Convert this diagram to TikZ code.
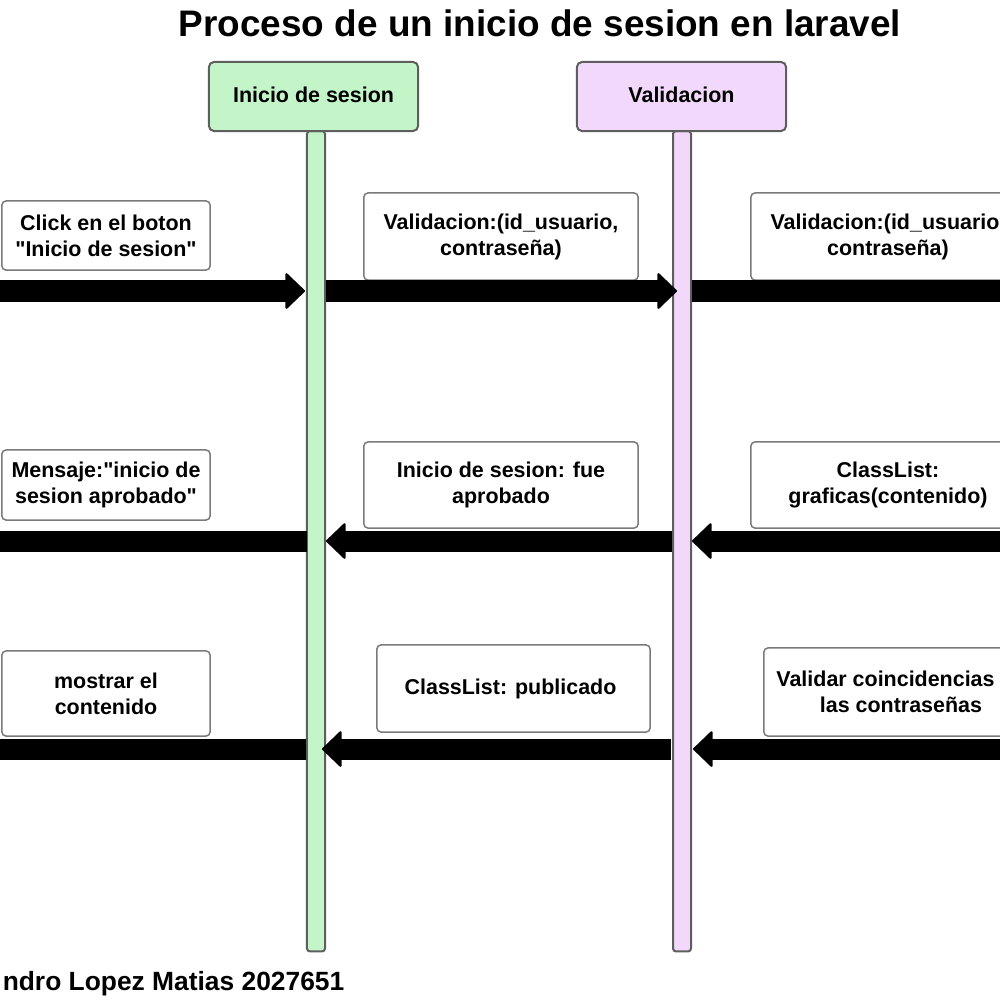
\documentclass[tikz,border=0pt]{standalone}
\usepackage{fontspec}
\setmainfont{Liberation Sans}
\usepackage{tikz}
\usetikzlibrary{arrows.meta,positioning}
\definecolor{verde}{HTML}{C3F5C8}
\definecolor{lila}{HTML}{F2D9FC}
\definecolor{borde}{HTML}{5E5E5E}
\definecolor{gris}{HTML}{7A7A7A}

\tikzset{
  lifehead/.style={draw=borde,line width=0.2mm,rounded corners=0.5mm,
    minimum width=20.9mm,minimum height=6.9mm,inner sep=0pt,
    font=\fontsize{6.1}{7}\selectfont\bfseries},
  lifebar/.style={draw=borde,line width=0.2mm,rounded corners=0.3mm,
    minimum width=1.8mm,minimum height=82mm,inner sep=0pt,outer sep=0pt,
    anchor=north},
  msgbox/.style={draw=gris,fill=white,line width=0.15mm,rounded corners=0.4mm,
    align=center,inner sep=0pt,
    font=\fontsize{6.1}{7.4}\selectfont\bfseries},
  msg/.style={line width=2.1mm,
    -{Triangle[length=2mm,width=3.8mm,line width=0.2mm,round]}},
}

\begin{document}
\begin{tikzpicture}[x=0.01cm,y=-0.01cm]
    \useasboundingbox (0,0) rectangle (1000,1000);
    \clip (0,0) rectangle (1000,1000);

    \node [font=\fontsize{10.5}{12}\selectfont\bfseries] (0) at (540,23) {
      Proceso de un inicio de sesion en laravel
    };

    % lineas de vida
    \node [lifebar,fill=verde] (v1) at (316,131) {};
    \node [lifebar,fill=lila] (v2) at (682,131) {};
    \node [lifehead,fill=verde] (1) at (313.5,96.5) {\raisebox{1pt}{Inicio de sesion}};
    \node [lifehead,fill=lila] (2) at (681.5,96.5) {\raisebox{1pt}{Validacion}};

    % mensajes
    \node [msgbox,minimum width=20.8mm,minimum height=6.9mm] (11) at (106,235.5) {
      Click en el boton\\\textquotedbl Inicio de sesion\textquotedbl
    };
    \node [msgbox,minimum width=27.4mm,minimum height=8.7mm] (12) at (501,236.5) {
      Validacion:(id\_usuario,\\contraseña)
    };
    \node [msgbox,minimum width=27.4mm,minimum height=8.7mm] (13) at (888,236.5) {
      Validacion:(id\_usuario\phantom{,}\\contraseña)
    };
    \node [msgbox,minimum width=20.8mm,minimum height=7mm] (21) at (106,485) {
      Mensaje:\textquotedbl inicio de\\sesion aprobado\textquotedbl
    };
    \node [msgbox,minimum width=27.4mm,minimum height=8.6mm] (22) at (501,485) {
      Inicio de sesion: fue\\aprobado
    };
    \node [msgbox,minimum width=27.4mm,minimum height=8.6mm] (23) at (888,485) {
      ClassList:\\graficas(contenido)
    };
    \node [msgbox,minimum width=20.8mm,minimum height=8.5mm] (31) at (106,693.5) {
      mostrar el\\contenido
    };
    \node [msgbox,minimum width=27.3mm,minimum height=8.7mm] (32) at (513.5,688.5) {
      ClassList: publicado
    };
    \node [msgbox,minimum width=27.4mm,minimum height=8.8mm] (33) at (901,692) {
      Validar coincidencias\phantom{ de}\\las contraseñas
    };

    % flechas
    \coordinate (in1) at (-30,291);
    \coordinate (out1) at (1040,291);
    \coordinate (in2) at (-40,541);
    \coordinate (out2) at (1040,541);
    \coordinate (in3) at (-40,749);
    \coordinate (out3) at (1040,749);

    \draw [msg] (in1) -- ([xshift=-0.2mm]v1.west |- in1);
    \draw [msg] ([xshift=0.1mm]v1.east |- in1) -- ([xshift=0.4mm]v2.west |- in1);
    \draw [msg] ([xshift=0.1mm]v2.east |- in1) -- (out1);

    \draw [msg] (v1.west |- in2) -- (in2);
    \draw [msg] ([xshift=-0.1mm]v2.west |- in2) -- ([xshift=0.1mm]v1.east |- in2);
    \draw [msg] (out2) -- ([xshift=0.1mm]v2.east |- in2);

    \draw [msg] ([xshift=-0.1mm]v1.west |- in3) -- (in3);
    \draw [msg] ([xshift=-0.2mm]v2.west |- in3) -- ([xshift=-0.3mm]v1.east |- in3);
    \draw [msg] (out3) -- ([xshift=0.2mm]v2.east |- in3);

    \node [anchor=base east,inner sep=0pt,font=\fontsize{7.5}{9}\selectfont\bfseries] (9) at (345,990) {
      ndro Lopez Matias 2027651
    };

  \end{tikzpicture}
\end{document}
